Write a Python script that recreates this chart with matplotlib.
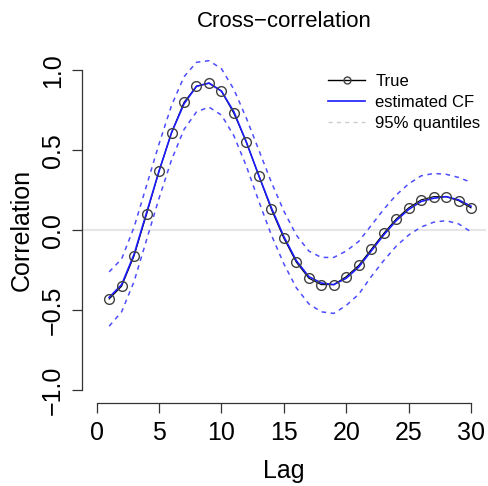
import matplotlib
matplotlib.use("Agg")

import numpy as np
import matplotlib.pyplot as plt
from matplotlib.lines import Line2D

# ---------------------------------------------------------
# Data: cross-correlation at lags 1..30
# ---------------------------------------------------------
lags = np.arange(1, 31)

true_cf = [-0.43, -0.35, -0.16, 0.10, 0.37, 0.61, 0.80, 0.90, 0.92, 0.87,
           0.73, 0.55, 0.34, 0.13, -0.05, -0.20, -0.30, -0.34, -0.34, -0.29,
           -0.22, -0.12, -0.02, 0.07, 0.14, 0.19, 0.21, 0.21, 0.185, 0.14]

est_cf = [-0.42, -0.34, -0.15, 0.11, 0.37, 0.61, 0.79, 0.90, 0.92, 0.87,
          0.74, 0.55, 0.34, 0.14, -0.04, -0.19, -0.29, -0.33, -0.34, -0.30,
          -0.23, -0.13, -0.03, 0.06, 0.13, 0.18, 0.20, 0.21, 0.19, 0.15]

upper_q = [-0.26, -0.18, 0.02, 0.28, 0.54, 0.78, 0.96, 1.05, 1.06, 1.01,
           0.88, 0.70, 0.50, 0.30, 0.12, -0.03, -0.13, -0.17, -0.17, -0.13,
           -0.07, 0.03, 0.13, 0.22, 0.29, 0.34, 0.355, 0.35, 0.33, 0.30]

lower_q = [-0.60, -0.51, -0.32, -0.06, 0.20, 0.44, 0.63, 0.74, 0.77, 0.72,
           0.59, 0.40, 0.18, -0.03, -0.21, -0.36, -0.46, -0.51, -0.52, -0.47,
           -0.40, -0.29, -0.19, -0.10, -0.03, 0.02, 0.05, 0.06, 0.04, -0.01]

xticks = [0, 5, 10, 15, 20, 25, 30]
yticks = [-1.0, -0.5, 0.0, 0.5, 1.0]

plt.rcParams["font.family"] = ["Liberation Sans", "DejaVu Sans"]
plt.rcParams["axes.unicode_minus"] = True

fig = plt.figure(figsize=(4.88, 4.86), dpi=100)
ax = fig.add_axes([0.1674, 0.1708, 0.8285, 0.7109])

ax.set_xlim(-1.2, 31.2)
ax.set_ylim(-1.08, 1.08)

# reference line at zero
ax.axhline(0, color="#e6e6e6", lw=1.5, zorder=1)

# quantile bands
ax.plot(lags, upper_q, color="#4d4dff", lw=1.1, ls=(0, (3, 3)), zorder=2)
ax.plot(lags, lower_q, color="#4d4dff", lw=1.1, ls=(0, (3, 3)), zorder=2)

# true CF (points + line) and estimated CF
ax.plot(lags, true_cf, color="black", lw=0.8, zorder=3)
ax.plot(lags, true_cf, ls="none", marker="o", ms=7, mfc="none",
        mec="#404040", mew=1.0, zorder=5)
ax.plot(lags, est_cf, color="#1a1aff", lw=1.2, zorder=4)

# R-style detached axes
for side in ("top", "right"):
    ax.spines[side].set_visible(False)
ax.spines["bottom"].set_bounds(0, 30)
ax.spines["left"].set_bounds(-1, 1)
for side in ("bottom", "left"):
    ax.spines[side].set_color("#333333")
    ax.spines[side].set_linewidth(0.9)

ax.set_xticks(xticks)
ax.set_xticklabels([str(t) for t in xticks])
ax.set_yticks(yticks)
ax.set_yticklabels([f"{t:.1f}".replace("-", "\u2212") for t in yticks],
                   rotation=90, va="center")
ax.tick_params(axis="both", direction="out", length=7.2, width=0.9,
               color="#333333", labelsize=18)
ax.tick_params(axis="x", pad=6)
ax.tick_params(axis="y", pad=5)

ax.set_xlabel("Lag", fontsize=18, labelpad=10)
ax.set_ylabel("Correlation", fontsize=18, labelpad=5)
fig.suptitle("Cross\u2212correlation", fontsize=16, x=0.582, y=0.978)

handles = [
    Line2D([], [], color="black", lw=1.0, marker="o", ms=5, mfc="none",
           mec="#404040"),
    Line2D([], [], color="#1a1aff", lw=1.2),
    Line2D([], [], color="#cccccc", lw=1.0, ls=(0, (3, 3))),
]
ax.legend(handles, ["True", "estimated CF", "95% quantiles"],
          loc="upper left", bbox_to_anchor=(0.656, 0.865),
          bbox_transform=fig.transFigure, frameon=False, fontsize=12,
          handlelength=2.2, handletextpad=0.6, labelspacing=0.35,
          borderpad=0)

fig.savefig("out.png", dpi=100)
